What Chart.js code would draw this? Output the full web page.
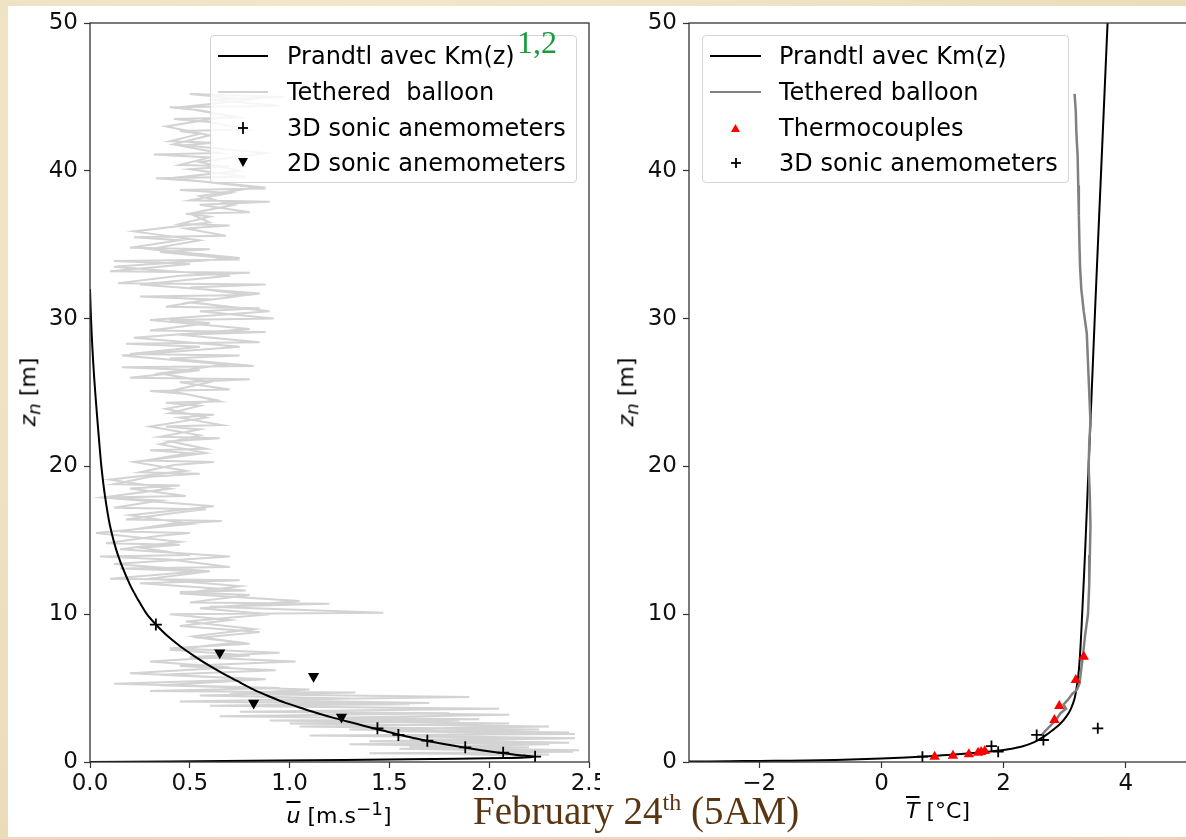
<!DOCTYPE html>
<html>
<head>
<meta charset="utf-8">
<script src="https://cdn.jsdelivr.net/npm/chart.js@4.4.0/dist/chart.umd.min.js"></script>
<style>
  body {
    margin: 0; width: 1186px; height: 839px; overflow: hidden; position: relative;
    background: radial-gradient(ellipse at 30% 20%, #f4e9cf 0%, #eddfbd 60%, #e8d8b2 100%);
    font-family: "DejaVu Sans", sans-serif;
  }
  #sheet { position: absolute; left: 8px; top: 6px; width: 1178px; height: 831px; background: #fff; }
  canvas { position: absolute; top: 0; }
  #cLeft { left: 0; }
  #cRight { left: 600px; }
  .legend {
    position: absolute; top: 35px; width: 365px; height: 146px;
    border: 1px solid #d4d4d4; border-radius: 4px; background: rgba(255,255,255,0.8);
    font-size: 24px; color: #000;
  }
  .row { position: absolute; left: 0; height: 24px; line-height: 24px; white-space: pre; }
  .row svg { position: absolute; left: 7px; top: 0; }
  .row span { position: absolute; left: 76px; top: 0; }
  .xlab, .ylab { position: absolute; font-size: 22px; color: #000; white-space: nowrap; }
  .xlab { top: 798px; transform: translateX(-50%); }
  .ylab { transform: translate(-50%, -50%) rotate(-90deg); }
  .ov { text-decoration: overline; font-style: italic; }
  #title {
    position: absolute; left: 473px; top: 791px; font-family: "Liberation Serif", serif;
    font-size: 39px; line-height: 39px; color: #5a3512; white-space: nowrap;
  }
  #title sup { font-size: 24px; vertical-align: 14px; line-height: 0; }
  #refs {
    position: absolute; left: 517px; top: 26px; font-family: "Liberation Serif", serif;
    font-size: 32px; line-height: 32px; color: #1a9c3e;
  }
</style>
</head>
<body>
<div id="sheet"></div>
<canvas id="cLeft" width="600" height="839"></canvas>
<canvas id="cRight" width="600" height="839"></canvas>

<div class="legend" style="left:210px">
  <div class="row" style="top:8px"><svg width="52" height="24"><line x1="0" y1="12" x2="50" y2="12" stroke="#000" stroke-width="2"/></svg><span>Prandtl avec Km(z)</span></div>
  <div class="row" style="top:44px"><svg width="52" height="24"><line x1="0" y1="12" x2="50" y2="12" stroke="#d3d3d3" stroke-width="2"/></svg><span>Tethered  balloon</span></div>
  <div class="row" style="top:80px"><svg width="52" height="24"><line x1="20" y1="12" x2="30" y2="12" stroke="#000" stroke-width="1.8"/><line x1="25" y1="6" x2="25" y2="18" stroke="#000" stroke-width="1.8"/></svg><span>3D sonic anemometers</span></div>
  <div class="row" style="top:115px"><svg width="52" height="24"><polygon points="20,7 30,7 25,16" fill="#000"/></svg><span>2D sonic anemometers</span></div>
</div>
<div id="refs">1,2</div>

<div class="legend" style="left:702px">
  <div class="row" style="top:8px"><svg width="52" height="24"><line x1="0" y1="12" x2="51" y2="12" stroke="#000" stroke-width="2"/></svg><span>Prandtl avec Km(z)</span></div>
  <div class="row" style="top:44px"><svg width="52" height="24"><line x1="0" y1="12" x2="51" y2="12" stroke="#808080" stroke-width="2"/></svg><span>Tethered balloon</span></div>
  <div class="row" style="top:80px"><svg width="52" height="24"><polygon points="21,16 30,16 25.5,8" fill="#ff0000"/></svg><span>Thermocouples</span></div>
  <div class="row" style="top:115px"><svg width="52" height="24"><line x1="21" y1="12" x2="31" y2="12" stroke="#000" stroke-width="1.8"/><line x1="26" y1="7" x2="26" y2="17" stroke="#000" stroke-width="1.8"/></svg><span>3D sonic anemometers</span></div>
</div>

<div class="ylab" style="left:30px; top:392px"><i>z</i><sub><i>n</i></sub> [m]</div>
<div class="ylab" style="left:628px; top:392px"><i>z</i><sub><i>n</i></sub> [m]</div>
<div class="xlab" style="left:339px"><span class="ov">u</span> [m.s<sup>−1</sup>]</div>
<div class="xlab" style="left:938px"><span class="ov">T</span> [°C]</div>
<div id="title">February 24<sup>th</sup> (5AM)</div>

<script>
// ---- left panel: wind speed ----
const leftXTicks = [0, 0.5, 1.0, 1.5, 2.0, 2.5];
const zTicks = [0, 10, 20, 30, 40, 50];

const prandtlU = [0, 0.005, 0.012, 0.021, 0.032, 0.044, 0.057, 0.075, 0.10, 0.14, 0.20, 0.24, 0.285,
  0.33, 0.39, 0.455, 0.53, 0.60, 0.665, 0.735, 0.82, 0.905, 0.98, 1.07, 1.14, 1.23, 1.33, 1.42, 1.49,
  1.555, 1.62, 1.685, 1.78, 1.87, 1.96, 2.05, 2.14, 2.22, 2.08, 1.6, 0.95, 0.4, 0];
const prandtlUZ = [32, 30, 28, 26, 24, 22, 20, 18, 16, 14, 12, 11, 10,
  9.3, 8.5, 7.8, 7.1, 6.5, 6.0, 5.5, 4.9, 4.4, 4.0, 3.6, 3.3, 2.95, 2.6, 2.28, 2.05,
  1.83, 1.63, 1.44, 1.2, 0.99, 0.8, 0.63, 0.48, 0.36, 0.27, 0.18, 0.1, 0.04, 0];

// tethered balloon: ascent (low levels, then upper levels), then descent
const balloonU = [
  2.30, 1.40, 2.42, 1.55, 2.20, 1.30, 2.40, 1.60, 2.35, 1.10, 2.43, 1.45, 2.25, 1.05, 2.10, 0.90,
  1.95, 0.65, 1.80, 0.75, 2.05, 0.60, 1.60, 0.45, 1.30, 0.55, 1.33, 0.30, 0.95, 0.12, 0.85, 0.35,
  0.93, 0.45, 1.03, 0.50, 0.95, 0.40, 0.80, 0.55, 0.85, 0.45, 0.70,
  0.40, 1.47, 0.60, 1.20, 0.50, 0.80,
  0.45, 0.78, 0.25, 0.75, 0.10, 0.55,
  0.15, 0.70, 0.40, 0.05, 0.50, 0.25,
  0.45, 0.08, 0.35, 0.50, 0.15, 0.40,
  0.66, 0.18, 0.45, 0.58, 0.12, 0.35,
  0.08, 0.48, 0.20, 0.45, 0.12, 0.30,
  0.55, 0.25, 0.42, 0.62, 0.28, 0.50,
  0.30, 0.58, 0.40, 0.65, 0.35, 0.55,
  0.38, 0.66, 0.45, 0.62, 0.40, 0.55,
  0.38, 0.65, 0.48, 0.30, 0.70, 0.45,
  0.80, 0.20, 0.55, 0.16, 0.82, 0.40,
  0.75, 0.20, 0.55, 0.18, 0.85, 0.45,
  0.88, 0.30, 0.60, 0.40, 0.92, 0.55,
  0.85, 0.38, 0.60, 0.25, 0.80, 0.50,
  0.88, 0.14, 0.45, 0.80, 0.10, 0.50,
  0.12, 0.75, 0.35, 0.60, 0.20, 0.45,
  0.22, 0.68, 0.48, 0.70, 0.45, 0.60,
  0.48, 0.80, 0.55, 0.90, 0.50, 0.70,
  0.45, 0.88, 0.55, 0.33, 0.78, 0.50,
  0.70, 0.45, 0.60, 0.32, 0.65, 0.45,
  0.62, 0.40, 0.55, 0.45, 0.78, 0.60,
  0.42, 0.75, 0.55, 0.40, 0.95, 0.60,
  0.97, 0.50,
  0.80, 0.45, 0.70, 0.38, 0.60, 0.42, 0.88, 0.55, 0.75, 0.40, 0.85, 0.55, 0.72, 0.50, 0.60, 0.22,
  0.55, 0.30, 0.75, 0.12, 0.70, 0.25, 0.85, 0.50, 0.90, 0.30, 0.80, 0.22, 0.75, 0.16, 0.68, 0.35,
  0.60, 0.40, 0.63, 0.38, 0.58, 0.30, 0.55, 0.35, 0.58, 0.22, 0.48, 0.10, 0.40, 0.06, 0.62, 0.20,
  0.50, 0.03, 0.45, 0.15, 0.70, 0.12, 0.60, 0.30, 0.75, 0.45, 1.05, 0.55, 0.90, 0.48, 0.82, 0.52,
  0.75, 0.40, 0.80, 0.30, 0.70, 0.20, 0.88, 0.35, 1.10, 0.70, 1.90, 0.80, 1.70, 0.60, 1.95, 0.90,
  2.10, 1.20, 1.85, 1.00, 2.30, 1.30, 2.40, 1.50, 2.43, 1.40, 2.30, 1.60, 2.45, 1.70, 2.20];
const balloonZ = [
  0.5, 0.6, 0.7, 0.9, 1.0, 1.2, 1.3, 1.5, 1.6, 1.8, 1.9, 2.1, 2.2, 2.4, 2.6, 2.8,
  2.9, 3.1, 3.3, 3.4, 3.6, 3.8, 3.9, 4.1, 4.3, 4.5, 4.7, 4.8, 5.0, 5.3, 5.6, 5.9,
  6.2, 6.5, 6.8, 7.1, 7.4, 7.7, 8.0, 8.4, 8.8, 9.2, 9.6,
  10.0, 10.1, 10.5, 10.7, 10.8, 11.3,
  11.5, 11.6, 12.1, 12.3, 12.4, 12.9,
  13.1, 13.2, 13.7, 13.9, 14.0, 14.5,
  14.7, 14.8, 15.3, 15.5, 15.6, 16.1,
  16.3, 16.4, 16.9, 17.1, 17.2, 17.7,
  17.9, 18.0, 18.5, 18.7, 18.8, 19.3,
  19.5, 19.6, 20.1, 20.3, 20.4, 20.9,
  21.1, 21.2, 21.7, 21.9, 22.0, 22.5,
  22.7, 22.8, 23.3, 23.5, 23.6, 24.1,
  24.3, 24.4, 24.9, 25.1, 25.2, 25.7,
  25.9, 26.0, 26.5, 26.7, 26.8, 27.3,
  27.5, 27.6, 28.1, 28.3, 28.4, 28.9,
  29.1, 29.2, 29.7, 29.9, 30.0, 30.5,
  30.7, 30.8, 31.3, 31.5, 31.6, 32.1,
  32.3, 32.4, 32.9, 33.1, 33.2, 33.7,
  33.9, 34.0, 34.5, 34.7, 34.8, 35.3,
  35.5, 35.6, 36.1, 36.3, 36.4, 36.9,
  37.1, 37.2, 37.7, 37.9, 38.0, 38.5,
  38.7, 38.8, 39.3, 39.5, 39.6, 40.1,
  40.3, 40.4, 40.9, 41.1, 41.2, 41.7,
  41.9, 42.0, 42.5, 42.7, 42.8, 43.3,
  43.5, 43.6, 44.1, 44.3, 44.4, 44.8,
  45.0, 45.2,
  44.8, 44.3, 43.7, 43.0, 42.4, 41.8, 41.2, 40.6, 40.0, 39.5, 38.9, 38.3, 37.7, 37.1, 36.5, 35.9,
  35.3, 34.7, 34.1, 33.5, 32.9, 32.3, 31.7, 31.1, 30.5, 29.9, 29.3, 28.7, 28.1, 27.5, 26.9, 26.3,
  25.7, 25.1, 24.5, 23.9, 23.3, 22.7, 22.1, 21.5, 20.9, 20.3, 19.7, 19.1, 18.5, 17.9, 17.3, 16.7,
  16.1, 15.5, 14.9, 14.4, 13.9, 13.4, 12.9, 12.4, 11.9, 11.4, 10.9, 10.4, 10.0, 9.5, 9.0, 8.5,
  8.1, 7.6, 7.2, 6.8, 6.4, 6.0, 5.6, 5.2, 4.9, 4.6, 4.4, 4.2, 4.0, 3.8, 3.6, 3.4,
  3.2, 3.0, 2.8, 2.6, 2.4, 2.2, 2.0, 1.8, 1.6, 1.4, 1.2, 1.0, 0.8, 0.6, 0.4];

const sonic3dU = [0.33, 1.44, 1.545, 1.69, 1.88, 2.07, 2.23];
const sonic3dUZ = [9.3, 2.28, 1.83, 1.44, 0.99, 0.63, 0.36];
const sonic2dU = [0.65, 1.12, 0.82, 1.26];
const sonic2dUZ = [7.4, 5.8, 4.0, 3.05];

// ---- right panel: temperature ----
const rightXTicks = [-2, 0, 2, 4];

const prandtlT = [-3.15, -2.5, -2.0, -1.5, -1.0, -0.5, 0.0, 0.4, 0.7, 1.0, 1.3, 1.6, 1.9, 2.1, 2.3, 2.5,
  2.65, 2.8, 2.93, 3.03, 3.1, 3.16, 3.2, 3.23, 3.26, 3.29, 3.33, 3.37, 3.42, 3.50, 3.60, 3.70];
const prandtlTZ = [0.03, 0.05, 0.07, 0.09, 0.12, 0.17, 0.23, 0.3, 0.37, 0.45, 0.54, 0.64, 0.76, 0.88, 1.05, 1.35,
  1.7, 2.15, 2.6, 3.1, 3.6, 4.3, 5.2, 6.2, 8.0, 10.5, 14, 18, 23, 31, 40.5, 50];

const balloonT = [3.16, 3.18, 3.19, 3.21, 3.22, 3.23, 3.24, 3.25, 3.27, 3.31, 3.36, 3.38, 3.40, 3.42, 3.40,
  3.39, 3.41, 3.42, 3.41, 3.40, 3.38, 3.33, 3.30, 3.27, 3.24, 3.20, 3.12, 3.05, 2.98, 3.02, 2.93, 2.88,
  2.82, 2.75, 2.68, 2.62];
const balloonTZ = [45.2, 44, 42.5, 41, 39, 37, 35, 33.5, 32, 30.5, 29, 27, 25, 23, 21.5,
  20, 18, 16, 14, 12, 10, 8.5, 7.3, 6.3, 5.3, 4.9, 4.6, 4.2, 3.9, 3.6, 3.3, 3.0,
  2.7, 2.4, 2.1, 1.8];

const thermoT = [0.87, 1.17, 1.43, 1.58, 1.63, 1.69, 2.83, 2.91, 3.18, 3.31];
const thermoZ = [0.36, 0.43, 0.52, 0.63, 0.68, 0.74, 2.84, 3.79, 5.54, 7.12];

const sonic3dT = [0.67, 1.80, 1.91, 2.54, 2.65, 3.54];
const sonic3dTZ = [0.36, 1.08, 0.70, 1.83, 1.49, 2.28];

const zip = (xs, ys) => xs.map((x, i) => ({ x, y: ys[i] }));

const framePlugin = {
  id: 'frame',
  afterDatasetsDraw(chart) {
    const a = chart.chartArea, ctx = chart.ctx;
    ctx.save();
    ctx.strokeStyle = '#333';
    ctx.lineWidth = 1.3;
    ctx.strokeRect(a.left, a.top, a.right - a.left, a.bottom - a.top);
    ctx.restore();
  }
};

const tickFont = { family: 'DejaVu Sans', size: 23 };

function axes(xMin, xMax, xTicks, fmt, yWidth) {
  return {
    x: {
      type: 'linear', min: xMin, max: xMax,
      afterBuildTicks: s => { s.ticks = xTicks.map(v => ({ value: v })); },
      afterFit: s => { s.height = 77; s.paddingLeft = 0; s.paddingRight = 0; },
      grid: { drawOnChartArea: false, drawTicks: true, tickLength: 6, tickWidth: 1.2, tickColor: '#333' },
      border: { display: false },
      ticks: { font: tickFont, color: '#111', padding: 2, maxRotation: 0, callback: fmt }
    },
    y: {
      type: 'linear', min: 0, max: 50,
      afterBuildTicks: s => { s.ticks = zTicks.map(v => ({ value: v })); },
      afterFit: s => { s.width = yWidth; s.paddingTop = 0; s.paddingBottom = 0; },
      grid: { drawOnChartArea: false, drawTicks: true, tickLength: 6, tickWidth: 1.2, tickColor: '#333' },
      border: { display: false },
      ticks: { font: tickFont, color: '#111', padding: 6, callback: v => String(v) }
    }
  };
}

const common = {
  responsive: false,
  animation: false,
  events: [],
  plugins: { legend: { display: false }, tooltip: { enabled: false } }
};

new Chart(document.getElementById('cLeft'), {
  type: 'scatter',
  data: {
    datasets: [
      { label: '3D sonic anemometers', data: zip(sonic3dU, sonic3dUZ), pointStyle: 'cross',
        pointRadius: 6, borderColor: '#000', borderWidth: 1.8 },
      { label: '2D sonic anemometers', data: zip(sonic2dU, sonic2dUZ), pointStyle: 'triangle',
        rotation: 180, pointRadius: 6.5, backgroundColor: '#000', borderColor: '#000', borderWidth: 0 },
      { label: 'Prandtl avec Km(z)', data: zip(prandtlU, prandtlUZ), showLine: true, pointRadius: 0,
        borderColor: '#000', borderWidth: 2, tension: 0.3 },
      { label: 'Tethered  balloon', data: zip(balloonU, balloonZ), showLine: true, pointRadius: 0,
        borderColor: '#d3d3d3', borderWidth: 2 }
    ]
  },
  options: Object.assign({}, common, {
    layout: { padding: { top: 23, right: 11, left: 0, bottom: 0 } },
    scales: axes(0, 2.5, leftXTicks, v => Number(v).toFixed(1), 90)
  }),
  plugins: [framePlugin]
});

new Chart(document.getElementById('cRight'), {
  type: 'scatter',
  data: {
    datasets: [
      { label: 'Thermocouples', data: zip(thermoT, thermoZ), pointStyle: 'triangle',
        pointRadius: 6, backgroundColor: '#ff0000', borderColor: '#ff0000', borderWidth: 0 },
      { label: '3D sonic anemometers', data: zip(sonic3dT, sonic3dTZ), pointStyle: 'cross',
        pointRadius: 5.5, borderColor: '#000', borderWidth: 1.8 },
      { label: 'Tethered balloon', data: zip(balloonT, balloonTZ), showLine: true, pointRadius: 0,
        borderColor: '#808080', borderWidth: 2.5 },
      { label: 'Prandtl avec Km(z)', data: zip(prandtlT, prandtlTZ), showLine: true, pointRadius: 0,
        borderColor: '#000', borderWidth: 2, tension: 0.3 }
    ]
  },
  options: Object.assign({}, common, {
    layout: { padding: { top: 23, right: 13, left: 0, bottom: 0 } },
    scales: axes(-3.15, 5.0, rightXTicks, v => (v < 0 ? '\u2212' + Math.abs(v) : String(v)), 89)
  }),
  plugins: [framePlugin]
});
</script>
</body>
</html>
